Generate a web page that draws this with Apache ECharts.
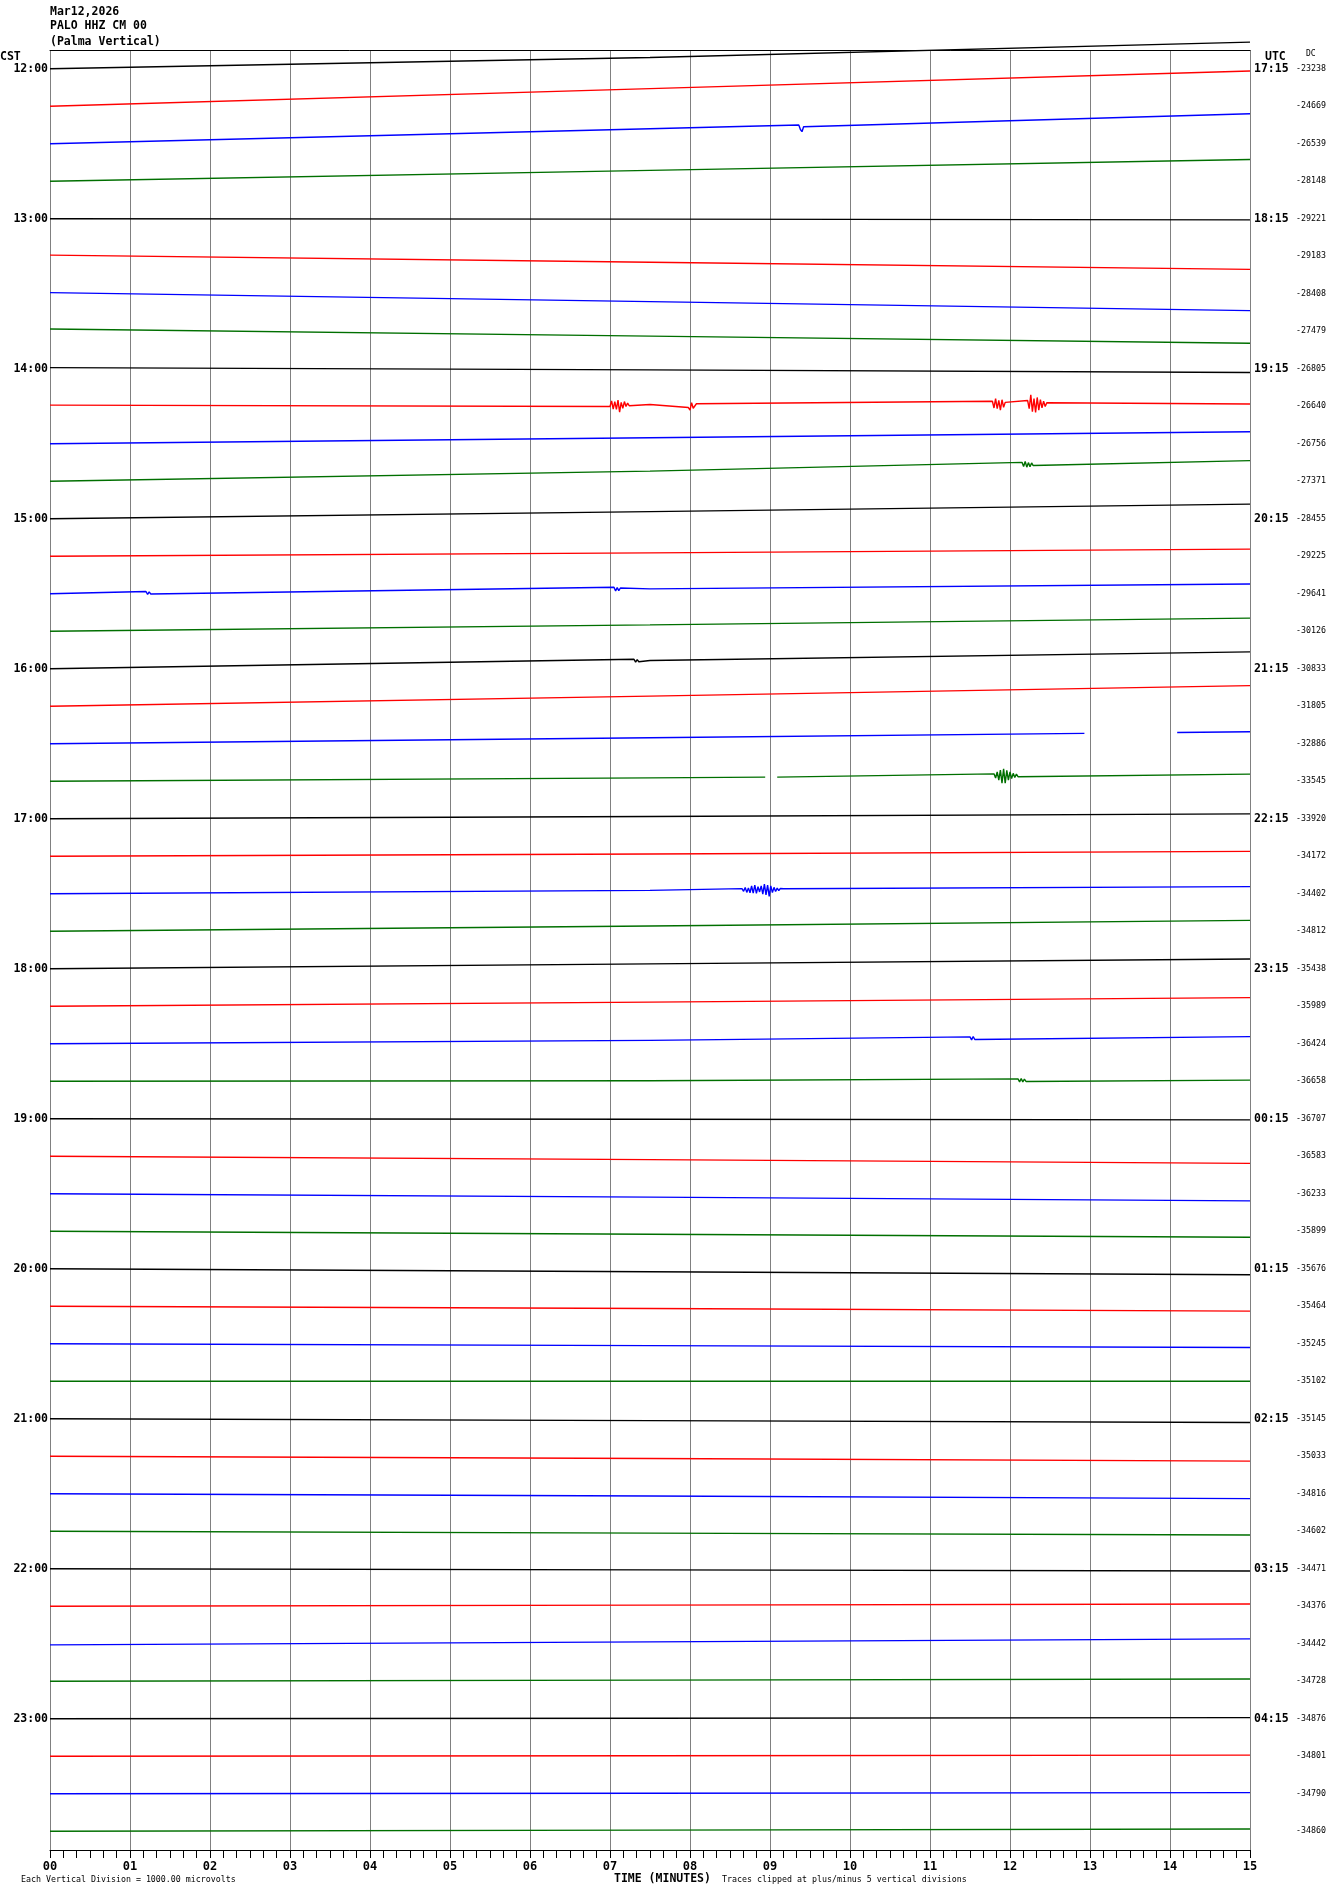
<!DOCTYPE html>
<html>
<head>
<meta charset="utf-8">
<script src="https://cdn.jsdelivr.net/npm/echarts@6/dist/echarts.min.js"></script>
<style>
html,body{margin:0;padding:0;background:#fff;}
#chart{width:1330px;height:1894px;}
</style>
</head>
<body>
<div id="chart"></div>
<script>
// ---- data read from the helicorder ----
const hourLabels = ['12:00','13:00','14:00','15:00','16:00','17:00','18:00','19:00','20:00','21:00','22:00','23:00'];
const utcLabels = ['17:15','18:15','19:15','20:15','21:15','22:15','23:15','00:15','01:15','02:15','03:15','04:15'];
const minuteLabels = ['00','01','02','03','04','05','06','07','08','09','10','11','12','13','14','15'];
const dcValues = ['-23238','-24669','-26539','-28148','-29221','-29183','-28408','-27479',
  '-26805','-26640','-26756','-27371','-28455','-29225','-29641','-30126',
  '-30833','-31805','-32886','-33545','-33920','-34172','-34402','-34812',
  '-35438','-35989','-36424','-36658','-36707','-36583','-36233','-35899',
  '-35676','-35464','-35245','-35102','-35145','-35033','-34816','-34602',
  '-34471','-34376','-34442','-34728','-34876','-34801','-34790','-34860'];
// trace offsets (in trace spacings, + = down) at minute 0, 7.5 and 15
const offStart = [0,0,0,0, 0,-0.03,-0.03,-0.06, -0.03,-0.03,0,0, 0,0,0,0,
  0,0,0,0, 0,0,0,0, 0,0,0,0, 0,0,0,0, 0,0,0,0, 0,0,0,0, 0,0,0.03,0, 0,0,0,0];
const offMid = [-0.3,-0.47,-0.4,-0.29, 0.01,0.16,0.21,0.13, 0.03,-0.045,-0.16,-0.27, -0.19,-0.09,-0.13,-0.17,
  -0.22,-0.27,-0.16,-0.09, -0.06,-0.06,-0.09,-0.14, -0.13,-0.11,-0.09,-0.015, 0.015,0.09,0.09,0.08,
  0.08,0.06,0.05,0, 0.05,0.06,0.06,0.05, 0.03,-0.03,-0.05,-0.03, -0.015,-0.015,-0.015,-0.03];
const offEnd = [-0.71,-0.94,-0.8,-0.58, 0.03,0.35,0.45,0.32, 0.1,-0.06,-0.32,-0.55, -0.39,-0.19,-0.26,-0.35,
  -0.45,-0.55,-0.32,-0.19, -0.13,-0.13,-0.19,-0.29, -0.26,-0.23,-0.19,-0.03, 0.03,0.19,0.19,0.16,
  0.16,0.13,0.1,0, 0.1,0.13,0.13,0.1, 0.06,-0.06,-0.13,-0.06, -0.03,-0.03,-0.03,-0.06];
// seismic bursts: trace, start minute, samples (offsets) every 0.02 min
const eventTrace = [2, 9, 9, 9, 9, 11, 14, 14, 16, 19, 22, 26, 27];
const eventStart = [9.36, 7.0, 7.98, 11.78, 12.22, 12.15, 1.2, 7.05, 7.3, 11.8, 8.65, 11.5, 12.1];
const eventVals = [
  [0,0.12,0.18,0.05,0],
  [0.05,-0.1,0.12,-0.08,0.13,-0.12,0.2,-0.06,0.1,-0.08,0.05,-0.04,0.03],
  [0.08,0.15,-0.05,0.1,0.04,-0.02],
  [-0.08,0.1,-0.15,0.12,-0.1,0.16,-0.12,0.08,-0.05],
  [-0.1,0.12,-0.25,0.2,-0.15,0.22,-0.18,0.16,-0.12,0.1,-0.08,0.06,-0.04],
  [-0.06,0.05,-0.08,0.07,-0.05,0.06,-0.04,0.03],
  [-0.04,0.04,-0.03,0.03],
  [-0.05,0.05,-0.04,0.04,-0.03],
  [-0.04,0.04,-0.03,0.03],
  [-0.05,0.06,-0.1,0.12,-0.15,0.2,-0.18,0.2,-0.14,0.12,-0.1,0.08,-0.06,0.05,-0.04,0.03],
  [-0.03,0.04,-0.06,0.07,-0.05,0.08,-0.1,0.09,-0.12,0.1,-0.08,0.06,-0.1,0.12,-0.15,0.14,-0.12,0.18,-0.1,0.08,-0.06,0.05,-0.04,0.03,-0.03,0.02,-0.02,0.01],
  [-0.04,0.04,-0.05,0.03],
  [-0.04,0.04,-0.05,0.04,-0.03,0.03]
];
const eventStep = 0.02;
// data gaps: trace, from minute, to minute
const gapTrace = [18, 19];
const gapStart = [12.93, 8.94];
const gapEnd = [14.09, 9.09];

const traceColors = ['#000000', '#ff0000', '#0000ff', '#006f00'];

// ---- build series ----
function trend(i, x) {
  if (x <= 7.5) return offStart[i] + (offMid[i] - offStart[i]) * (x / 7.5);
  return offMid[i] + (offEnd[i] - offMid[i]) * ((x - 7.5) / 7.5);
}
const series = [];
for (let i = 0; i < 48; i++) {
  const pts = [];
  [0, 7.5, 15].forEach(x => pts.push([x, i + trend(i, x)]));
  eventTrace.forEach((t, k) => {
    if (t !== i) return;
    eventVals[k].forEach((v, j) => {
      const x = eventStart[k] + j * eventStep;
      pts.push([x, i + trend(i, x) + v]);
    });
  });
  gapTrace.forEach((t, k) => {
    if (t !== i) return;
    pts.push([gapStart[k], i + trend(i, gapStart[k])]);
    pts.push([(gapStart[k] + gapEnd[k]) / 2, null]);
    pts.push([gapEnd[k], i + trend(i, gapEnd[k])]);
  });
  pts.sort((a, b) => a[0] - b[0]);
  series.push({
    type: 'line',
    xAxisIndex: 0,
    yAxisIndex: 0,
    data: pts,
    symbol: 'none',
    clip: false,
    connectNulls: false,
    silent: true,
    lineStyle: { color: traceColors[i % 4], width: 1.4 },
    animation: false
  });
}

const leftLabels = [], rightLabels = [];
for (let i = 0; i < 48; i++) {
  leftLabels.push(i % 4 === 0 ? hourLabels[i / 4] : '');
  rightLabels.push(i % 4 === 0 ? utcLabels[i / 4] : '');
}

const mono = '"DejaVu Sans Mono", "Liberation Mono", monospace';
const chart = echarts.init(document.getElementById('chart'), null, { renderer: 'canvas' });
chart.setOption({
  backgroundColor: '#ffffff',
  animation: false,
  grid: { left: 50, right: 80, top: 50, height: 1800, containLabel: false },
  xAxis: [{
    type: 'value', min: 0, max: 15, interval: 1, position: 'bottom',
    axisLine: { show: true, onZero: false, lineStyle: { color: '#000', width: 1 } },
    axisTick: { show: true, length: 8, lineStyle: { color: '#000', width: 1 } },
    minorTick: { show: true, splitNumber: 6, length: 8, lineStyle: { color: '#000', width: 1 } },
    splitLine: { show: true, lineStyle: { color: '#808080', width: 1 } },
    axisLabel: { formatter: v => minuteLabels[v], fontFamily: mono, fontWeight: 'bold', fontSize: 12, color: '#000', margin: 11 }
  }, {
    type: 'value', min: 0, max: 15, interval: 1, position: 'top',
    axisLine: { show: true, onZero: false, lineStyle: { color: '#000', width: 1 } },
    axisTick: { show: false }, minorTick: { show: false }, axisLabel: { show: false },
    splitLine: { show: false }, minorSplitLine: { show: false }
  }],
  yAxis: [{
    type: 'value', min: -0.5, max: 47.5, inverse: true, show: false
  }, {
    type: 'category', data: leftLabels, inverse: true, position: 'left',
    axisLine: { show: false }, axisTick: { show: false }, splitLine: { show: false },
    axisLabel: { interval: 0, margin: 2, fontFamily: mono, fontWeight: 'bold', fontSize: 11.5, color: '#000' }
  }, {
    type: 'category', data: rightLabels, inverse: true, position: 'right',
    axisLine: { show: false }, axisTick: { show: false }, splitLine: { show: false },
    axisLabel: { interval: 0, margin: 4, fontFamily: mono, fontWeight: 'bold', fontSize: 11.5, color: '#000' }
  }, {
    type: 'category', data: dcValues, inverse: true, position: 'right', offset: 42,
    axisLine: { show: false }, axisTick: { show: false }, splitLine: { show: false },
    axisLabel: { interval: 0, margin: 4, fontFamily: mono, fontSize: 8.3, color: '#000' }
  }],
  graphic: [
    { type: 'text', x: 50, y: 12, style: { text: 'Mar12,2026', font: 'bold 11.5px ' + mono, fill: '#000', verticalAlign: 'middle' } },
    { type: 'text', x: 50, y: 26.5, style: { text: 'PALO HHZ CM 00', font: 'bold 11.5px ' + mono, fill: '#000', verticalAlign: 'middle' } },
    { type: 'text', x: 50, y: 42, style: { text: '(Palma Vertical)', font: 'bold 11.5px ' + mono, fill: '#000', verticalAlign: 'middle' } },
    { type: 'text', x: 0, y: 57, style: { text: 'CST', font: 'bold 11.5px ' + mono, fill: '#000', verticalAlign: 'middle' } },
    { type: 'text', x: 1265, y: 57, style: { text: 'UTC', font: 'bold 11.5px ' + mono, fill: '#000', verticalAlign: 'middle' } },
    { type: 'text', x: 1306, y: 54, style: { text: 'DC', font: '8px ' + mono, fill: '#000', verticalAlign: 'middle' } },
    { type: 'text', x: 21, y: 1880, style: { text: 'Each Vertical Division = 1000.00 microvolts', font: '8.3px ' + mono, fill: '#000', verticalAlign: 'middle' } },
    { type: 'text', x: 614, y: 1879, style: { text: 'TIME (MINUTES)', font: 'bold 11.5px ' + mono, fill: '#000', verticalAlign: 'middle' } },
    { type: 'text', x: 722, y: 1880, style: { text: 'Traces clipped at plus/minus 5 vertical divisions', font: '8.3px ' + mono, fill: '#000', verticalAlign: 'middle' } }
  ],
  series: series
});
</script>
</body>
</html>
